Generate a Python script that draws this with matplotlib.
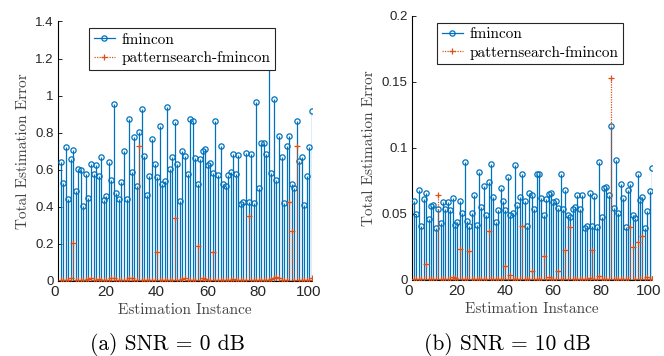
import numpy as np
import matplotlib
matplotlib.use('Agg')
import matplotlib.pyplot as plt
from matplotlib.lines import Line2D
from matplotlib.legend_handler import HandlerLine2D
from matplotlib.transforms import ScaledTranslation

# estimation instances 1..100
instances = np.arange(1, 101)

# SNR = 0 dB
fmincon_0db = [0.639, 0.527, 0.723, 0.439, 0.657, 0.707, 0.484, 0.601, 0.597, 0.405,
               0.574, 0.446, 0.630, 0.574, 0.624, 0.565, 0.669, 0.435, 0.457, 0.639,
               0.543, 0.952, 0.473, 0.439, 0.534, 0.702, 0.443, 0.876, 0.588, 0.776,
               0.511, 0.801, 0.930, 0.671, 0.461, 0.567, 0.763, 0.632, 0.561, 0.833,
               0.522, 0.538, 0.939, 0.605, 0.666, 0.855, 0.632, 0.432, 0.702, 0.675,
               0.574, 0.873, 0.860, 0.664, 0.522, 0.655, 0.702, 0.711, 0.624, 0.637,
               0.581, 0.862, 0.572, 0.729, 0.522, 0.509, 0.569, 0.587, 0.684, 0.576,
               0.677, 0.414, 0.426, 0.689, 0.426, 0.682, 0.419, 0.963, 0.500, 0.745,
               0.745, 0.682, 1.250, 0.580, 0.979, 0.545, 0.780, 0.670, 0.420, 0.730,
               0.780, 0.520, 0.500, 0.860, 0.645, 0.670, 0.410, 0.565, 0.720, 0.915]
ps_0db = [0.005, 0.004, 0.006, 0.005, 0.012, 0.205, 0.006, 0.004, 0.005, 0.006,
          0.004, 0.008, 0.014, 0.006, 0.005, 0.007, 0.004, 0.006, 0.005, 0.004,
          0.012, 0.014, 0.005, 0.004, 0.006, 0.005, 0.004, 0.012, 0.015, 0.006,
          0.005, 0.729, 0.006, 0.004, 0.005, 0.006, 0.004, 0.005, 0.157, 0.006,
          0.004, 0.005, 0.006, 0.004, 0.005, 0.337, 0.006, 0.004, 0.010, 0.012,
          0.005, 0.004, 0.006, 0.005, 0.187, 0.006, 0.012, 0.010, 0.005, 0.004,
          0.157, 0.006, 0.005, 0.004, 0.006, 0.005, 0.004, 0.006, 0.008, 0.005,
          0.004, 0.006, 0.005, 0.004, 0.350, 0.006, 0.005, 0.004, 0.006, 0.005,
          0.004, 0.006, 0.005, 0.010, 0.014, 0.018, 0.016, 0.006, 0.005, 0.004,
          0.425, 0.268, 0.005, 0.727, 0.004, 0.006, 0.005, 0.004, 0.006, 0.012]

# SNR = 10 dB
fmincon_10db = [0.0595, 0.050, 0.068, 0.041, 0.061, 0.066, 0.046, 0.056, 0.057, 0.039,
                0.0535, 0.043, 0.059, 0.054, 0.059, 0.053, 0.062, 0.0414, 0.0436, 0.060,
                0.051, 0.089, 0.045, 0.041, 0.051, 0.064, 0.042, 0.082, 0.055, 0.071,
                0.049, 0.074, 0.088, 0.063, 0.044, 0.053, 0.070, 0.0595, 0.053, 0.078,
                0.049, 0.051, 0.087, 0.057, 0.0625, 0.080, 0.060, 0.041, 0.0656, 0.064,
                0.054, 0.080, 0.080, 0.062, 0.049, 0.061, 0.065, 0.066, 0.059, 0.0595,
                0.0545, 0.080, 0.054, 0.068, 0.049, 0.048, 0.054, 0.055, 0.0645, 0.054,
                0.064, 0.039, 0.0406, 0.0656, 0.0406, 0.0636, 0.040, 0.0895, 0.048, 0.070,
                0.0704, 0.064, 0.1168, 0.0545, 0.0905, 0.051, 0.0724, 0.0623, 0.040, 0.068,
                0.0724, 0.049, 0.047, 0.0805, 0.0605, 0.0628, 0.039, 0.052, 0.067, 0.085]
ps_10db = [0.0008, 0.0007, 0.0009, 0.0008, 0.0007, 0.0120, 0.0008, 0.0009, 0.0007, 0.0008,
           0.0640, 0.0008, 0.0007, 0.0009, 0.0008, 0.0010, 0.0020, 0.0015, 0.0008, 0.0237,
           0.0007, 0.0008, 0.0009, 0.0220, 0.0008, 0.0007, 0.0009, 0.0008, 0.0010, 0.0009,
           0.0008, 0.0370, 0.0007, 0.0008, 0.0009, 0.0008, 0.0007, 0.0008, 0.0103, 0.0009,
           0.0035, 0.0008, 0.0007, 0.0009, 0.0008, 0.0410, 0.0008, 0.0007, 0.0009, 0.0068,
           0.0008, 0.0007, 0.0009, 0.0008, 0.0180, 0.0008, 0.0020, 0.0009, 0.0007, 0.0008,
           0.0070, 0.0008, 0.0007, 0.0230, 0.0008, 0.0400, 0.0007, 0.0009, 0.0008, 0.0007,
           0.0009, 0.0008, 0.0007, 0.0012, 0.0230, 0.0008, 0.0007, 0.0028, 0.0009, 0.0008,
           0.0007, 0.0009, 0.1530, 0.0008, 0.0007, 0.0009, 0.0008, 0.0007, 0.0009, 0.0008,
           0.0400, 0.0250, 0.0008, 0.0290, 0.0007, 0.0330, 0.0008, 0.0025, 0.0009, 0.0008]

yticks_0db = [0, 0.2, 0.4, 0.6, 0.8, 1, 1.2, 1.4]
ytick_labels_0db = ['0', '0.2', '0.4', '0.6', '0.8', '1', '1.2', '1.4']
yticks_10db = [0, 0.05, 0.1, 0.15, 0.2]
ytick_labels_10db = ['0', '0.05', '0.1', '0.15', '0.2']
xticks = [0, 20, 40, 60, 80, 100]

BLUE = '#0072BD'
ORANGE = '#D95319'
AXC = '#262626'
SERIF = 'cmr10'
TICK_PAD = 3


class EndMarker(HandlerLine2D):
    # matlab style legend: marker sits at the right end of the line
    def get_xdata(self, legend, xdescent, ydescent, width, height, fontsize):
        xdata = np.array([-xdescent, -xdescent + width])
        return xdata, np.array([-xdescent + width])


def stem_panel(fig, rect, y1, y2, ymax, yt, ytl, leg_anchor):
    ax = fig.add_axes(rect)
    ax.vlines(instances, 0, y1, color=BLUE, lw=0.9, zorder=2)
    ax.plot(instances, y1, 'o', color=BLUE, mfc='none', ms=3.8, mew=0.9, zorder=3)
    ax.vlines(instances, 0, y2, color=ORANGE, lw=0.9, linestyles=(0, (1, 1)), zorder=4)
    ax.plot(instances, y2, '+', color=ORANGE, ms=4.5, mew=0.9, zorder=5)
    ax.axhline(0, color=AXC, lw=0.8, zorder=6)

    # top tick label is written by hand (the tick label at the very top got lost)
    ax.set_xticks(xticks, labels=[str(t) for t in xticks])
    ax.set_yticks(yt, labels=ytl[:-1] + [''])
    ax.set_xlim(0, 100)
    ax.set_ylim(0, ymax * 1.0005)
    for lab in ax.get_xticklabels():
        lab.set_fontsize(11)
        lab.set_family('Liberation Sans')
    for lab in ax.get_yticklabels():
        lab.set_fontsize(9.5)
        lab.set_family('Liberation Sans')
    ax.tick_params(direction='in', length=3, width=0.7, colors=AXC, pad=TICK_PAD)
    for lab in ax.get_xticklabels():
        lab.set_transform(lab.get_transform() + ScaledTranslation(-0.03, 0, fig.dpi_scale_trans))
    ax.spines['top'].set_visible(False)
    ax.spines['right'].set_visible(False)

    top_tr = ax.get_yaxis_transform() + ScaledTranslation(-TICK_PAD / 72, 0, fig.dpi_scale_trans)
    ax.text(0, yt[-1], ytl[-1], transform=top_tr, ha='right', va='center_baseline',
            fontsize=9.5, family='Liberation Sans', color=AXC, clip_on=False, zorder=20)

    ax.set_xlabel('Estimation Instance', family=SERIF, fontsize=11, color='#444444', labelpad=3)
    ax.set_ylabel('Total Estimation Error', family=SERIF, fontsize=11, color='#444444', labelpad=4)

    h1 = Line2D([], [], color=BLUE, lw=0.9, marker='o', mfc='none', ms=3.8, mew=0.9)
    h2 = Line2D([], [], color=ORANGE, lw=0.9, ls=(0, (1, 1)), marker='+', ms=4.5, mew=0.9)
    leg = ax.legend([h1, h2], ['fmincon', 'patternsearch-fmincon'],
                    handler_map={Line2D: EndMarker()},
                    loc='upper left', bbox_to_anchor=leg_anchor, borderaxespad=0,
                    prop={'family': SERIF, 'size': 11}, fancybox=False,
                    handlelength=1.4, handletextpad=0.4, labelspacing=0.3,
                    borderpad=0.3, framealpha=1)
    leg.get_frame().set_edgecolor(AXC)
    leg.get_frame().set_linewidth(0.8)
    return ax


fig = plt.figure(figsize=(6.64, 3.56), dpi=100)
ax1 = stem_panel(fig, [0.0873, 0.2115, 0.3826, 0.7285], fmincon_0db, ps_0db, 1.4,
                 yticks_0db, ytick_labels_0db, (0.123, 0.973))
ax2 = stem_panel(fig, [0.620, 0.2135, 0.3619, 0.7424], fmincon_10db, ps_10db, 0.2,
                 yticks_10db, ytick_labels_10db, (0.106, 0.9735))

fig.text(167 / 664, 1 - 344 / 356, '(a) SNR = 0 dB', family=SERIF, fontsize=15.5,
         ha='center', va='center')
fig.text(507 / 664, 1 - 344 / 356, '(b) SNR = 10 dB', family=SERIF, fontsize=15.5,
         ha='center', va='center')

fig.savefig('out.png', dpi=100)
